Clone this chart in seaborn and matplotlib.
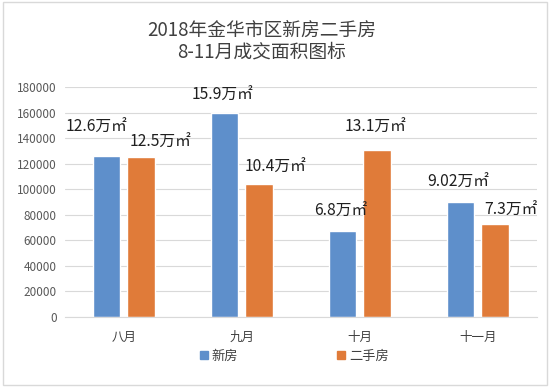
import matplotlib
matplotlib.use("Agg")
import matplotlib.pyplot as plt
import matplotlib.patches as mpatches
import seaborn as sns
import pandas as pd

# 数据
months = ["八月", "九月", "十月", "十一月"]
new_house = [126000, 159500, 67500, 90200]
second_house = [125000, 104000, 131000, 73000]
new_labels = ["12.6万㎡", "15.9万㎡", "6.8万㎡", "9.02万㎡"]
second_labels = ["12.5万㎡", "10.4万㎡", "13.1万㎡", "7.3万㎡"]
series_names = ["新房", "二手房"]

colores = ["#5E8FCB", "#E07B39"]

# 标签偏移 (像素)，按柱子顺序
offsets_new = [(-10, 29), (-2, 18), (-2, 19), (-2, 19)]
offsets_second = [(20, 15), (17, 17), (-1, 22), (16, 13)]

df = pd.DataFrame({
    "month": months * 2,
    "area": new_house + second_house,
    "type": [series_names[0]] * 4 + [series_names[1]] * 4,
})

sns.set_style("white")
plt.rcParams["font.family"] = ["Noto Sans CJK SC", "DejaVu Sans"]

fig = plt.figure(figsize=(5.5, 3.87), dpi=100)
ax = fig.add_axes([0.118, 0.181, 0.858, 0.594])

sns.barplot(data=df, x="month", y="area", hue="type", palette=colores,
            width=0.58, gap=0.2, ax=ax, legend=False, saturation=1)

ax.set_ylim(0, 180000)
ax.set_yticks(range(0, 180001, 20000))
ax.set_xlim(-0.5, 3.5)
ax.yaxis.grid(True, color="#D9D9D9", linewidth=0.8)
ax.set_axisbelow(True)
for s in ["top", "right", "left"]:
    ax.spines[s].set_visible(False)
ax.spines["bottom"].set_color("#D9D9D9")
ax.tick_params(axis="y", length=0, labelsize=8.5, labelcolor="#595959", pad=6)
ax.tick_params(axis="x", length=0, labelsize=9, labelcolor="#404040", pad=10)
ax.set_xlabel("")
ax.set_ylabel("")

# 数值标签
bars = ax.patches
grupos = [(new_labels, offsets_new), (second_labels, offsets_second)]
for k, (labs, offs) in enumerate(grupos):
    for i in range(4):
        b = bars[k * 4 + i]
        xc = b.get_x() + b.get_width() / 2
        ax.annotate(labs[i], (xc, b.get_height()), xytext=offs[i],
                    textcoords="offset pixels", ha="center", va="center",
                    fontsize=11.3, color="#1F1F1F", annotation_clip=False)

fig.text(0.475, 0.922, "2018年金华市区新房二手房", ha="center", va="center",
         fontsize=13.5, color="#404040")
fig.text(0.475, 0.865, "8-11月成交面积图标", ha="center", va="center",
         fontsize=13.5, color="#404040")

handles = [mpatches.Patch(color=c, label=n) for c, n in zip(colores, series_names)]
fig.legend(handles=handles, loc="center", bbox_to_anchor=(0.535, 0.08), ncol=2,
           frameon=False, fontsize=9.5, handlelength=0.6, handleheight=0.6,
           handletextpad=0.3, columnspacing=7.5, labelcolor="#404040")

fig.patches.append(mpatches.Rectangle((0.006, 0.006), 0.988, 0.988,
                   transform=fig.transFigure, fill=False,
                   edgecolor="#D9D9D9", linewidth=1))

fig.savefig("out.png", dpi=100)
